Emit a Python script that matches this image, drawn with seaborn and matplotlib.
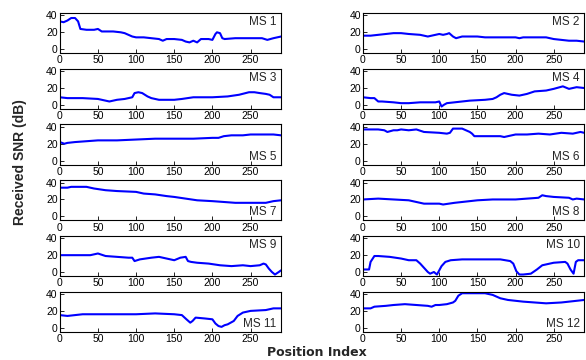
import matplotlib
matplotlib.use("Agg")
import matplotlib.pyplot as plt
import seaborn as sns
import pandas as pd

# breakpoints (position index, received SNR in dB)
ms1_x = [0, 5, 10, 15, 20, 24, 27, 35, 45, 50, 55, 70, 80, 85, 95, 100, 110, 120, 130, 135, 140, 150, 160, 165, 170, 175, 180, 185, 195, 200, 204, 206, 210, 213, 216, 230, 250, 265, 272, 280, 290]
ms1_y = [33, 32, 34, 37, 37, 33, 24, 23, 23, 24, 21, 21, 20, 19, 15, 14, 14, 13, 12, 10, 12, 12, 11, 9, 8, 10, 8, 12, 12, 11, 18, 20, 19, 13, 12, 13, 13, 13, 11, 13, 15]

ms2_x = [0, 10, 20, 40, 50, 60, 75, 85, 90, 95, 100, 105, 110, 113, 118, 122, 130, 150, 160, 190, 200, 205, 210, 240, 250, 260, 270, 280, 290]
ms2_y = [16, 16, 17, 19, 19, 18, 17, 15, 16, 17, 18, 17, 18, 19, 15, 13, 15, 15, 14, 14, 14, 13, 14, 14, 12, 11, 10, 10, 9]

ms3_x = [0, 10, 30, 50, 60, 65, 75, 85, 95, 98, 103, 108, 115, 120, 130, 150, 160, 175, 200, 220, 235, 248, 255, 262, 270, 275, 280, 290]
ms3_y = [9, 8, 8, 7, 5, 4, 6, 7, 9, 14, 15, 14, 10, 8, 6, 6, 7, 9, 9, 10, 12, 15, 15, 14, 13, 12, 9, 9]

ms4_x = [0, 10, 15, 20, 25, 40, 50, 60, 75, 95, 100, 103, 106, 110, 120, 140, 160, 170, 175, 180, 185, 190, 195, 205, 215, 225, 240, 250, 258, 262, 270, 280, 290]
ms4_y = [9, 8, 8, 4, 4, 3, 2, 2, 3, 3, 4, -2, 0, 2, 3, 5, 6, 7, 9, 12, 14, 13, 12, 11, 13, 16, 17, 19, 21, 22, 19, 21, 20]

ms5_x = [0, 3, 6, 10, 20, 35, 50, 75, 100, 125, 150, 175, 200, 208, 215, 225, 240, 250, 270, 280, 290]
ms5_y = [22, 21, 20, 21, 22, 23, 24, 24, 25, 26, 26, 26, 27, 27, 29, 30, 30, 31, 31, 31, 30]

ms6_x = [0, 20, 28, 32, 40, 45, 50, 60, 70, 80, 100, 110, 114, 118, 130, 135, 140, 143, 146, 180, 185, 195, 200, 215, 230, 245, 260, 275, 285, 290]
ms6_y = [37, 37, 36, 34, 36, 36, 37, 36, 37, 34, 33, 32, 33, 38, 38, 36, 34, 32, 29, 29, 28, 30, 31, 31, 32, 31, 33, 32, 34, 33]

ms7_x = [0, 10, 15, 35, 45, 60, 75, 100, 110, 125, 140, 150, 165, 180, 200, 215, 230, 270, 275, 280, 290]
ms7_y = [34, 34, 35, 35, 33, 31, 30, 29, 27, 26, 24, 23, 21, 19, 18, 17, 16, 16, 17, 18, 19]

ms8_x = [0, 20, 40, 60, 70, 80, 100, 105, 120, 130, 150, 170, 200, 215, 230, 235, 240, 250, 270, 275, 280, 290]
ms8_y = [20, 21, 20, 19, 17, 15, 15, 14, 16, 17, 19, 20, 20, 21, 22, 25, 24, 23, 22, 20, 21, 20]

ms9_x = [0, 20, 40, 50, 60, 75, 90, 95, 98, 105, 120, 130, 140, 150, 158, 165, 168, 172, 180, 195, 210, 225, 240, 250, 262, 267, 270, 274, 278, 282, 287, 290]
ms9_y = [20, 20, 20, 22, 19, 18, 17, 17, 13, 15, 17, 18, 16, 14, 17, 18, 13, 12, 11, 10, 8, 7, 8, 7, 8, 10, 9, 4, 0, -3, 0, 2]

ms10_x = [0, 8, 10, 15, 20, 35, 50, 60, 70, 75, 80, 85, 88, 93, 97, 100, 103, 108, 115, 130, 180, 193, 197, 201, 205, 210, 220, 228, 235, 250, 265, 268, 272, 276, 279, 282, 290]
ms10_y = [3, 3, 12, 19, 19, 18, 16, 14, 14, 10, 5, 0, -2, 0, -3, 2, 7, 12, 14, 15, 15, 13, 10, 1, -3, -3, -2, 3, 8, 11, 12, 10, 3, -2, 12, 14, 14]

ms11_x = [0, 10, 30, 60, 100, 125, 150, 160, 166, 171, 174, 178, 190, 200, 204, 208, 212, 216, 220, 228, 233, 240, 250, 270, 280, 290]
ms11_y = [15, 14, 16, 16, 16, 17, 16, 15, 10, 6, 8, 12, 11, 10, 5, 2, 1, 3, 4, 8, 14, 18, 20, 21, 23, 23]

ms12_x = [0, 10, 15, 30, 40, 55, 70, 85, 90, 95, 100, 110, 118, 121, 125, 130, 140, 160, 170, 180, 190, 210, 240, 260, 280, 290]
ms12_y = [23, 23, 25, 26, 27, 28, 27, 26, 25, 27, 27, 28, 30, 32, 38, 41, 41, 41, 39, 35, 33, 31, 29, 30, 32, 33]

series_x = [ms1_x, ms2_x, ms3_x, ms4_x, ms5_x, ms6_x, ms7_x, ms8_x, ms9_x, ms10_x, ms11_x, ms12_x]
series_y = [ms1_y, ms2_y, ms3_y, ms4_y, ms5_y, ms6_y, ms7_y, ms8_y, ms9_y, ms10_y, ms11_y, ms12_y]
labels = ["MS %d" % i for i in range(1, 13)]
label_on_top = [True, True, True, True, False, False, False, False, True, True, False, False]

x_ticks = [0, 50, 100, 150, 200, 250]
y_ticks = [0, 20, 40]

sns.set_style("ticks")
plt.rcParams['font.family'] = ['Liberation Sans', 'DejaVu Sans']

fig, axes = plt.subplots(6, 2, figsize=(5.86, 3.6), dpi=100)
fig.subplots_adjust(left=0.102, right=0.997, top=0.964, bottom=0.078, wspace=0.37, hspace=0.38)

for i, ax in enumerate(axes.flat):
    df = pd.DataFrame({"pos": series_x[i], "snr": series_y[i]})
    sns.lineplot(data=df, x="pos", y="snr", ax=ax, color="#0000ff", linewidth=1.5,
                 estimator=None, sort=False)
    ax.set_xlim(0, 290)
    ax.set_ylim(-5, 43)
    ax.set_xticks(x_ticks)
    ax.set_yticks(y_ticks)
    ax.set_xlabel("")
    ax.set_ylabel("")
    ax.tick_params(direction="in", length=3, width=0.6, labelsize=7.5, pad=1.5, colors="black")
    for sp in ax.spines.values():
        sp.set_linewidth(0.8)
        sp.set_color("black")
    if label_on_top[i]:
        ax.text(0.98, 0.93, labels[i], transform=ax.transAxes, ha="right", va="top", fontsize=8.5)
    else:
        ax.text(0.98, 0.05, labels[i], transform=ax.transAxes, ha="right", va="bottom", fontsize=8.5)

fig.text(0.54, 0.004, "Position Index", ha="center", va="bottom", fontsize=9,
         fontweight="bold", family=["DejaVu Sans"])
fig.text(0.034, 0.55, "Received SNR (dB)", ha="center", va="center", rotation=90,
         fontsize=10, fontweight="bold", family=["Liberation Sans Narrow", "Liberation Sans"])

fig.savefig("out.png", dpi=100)
